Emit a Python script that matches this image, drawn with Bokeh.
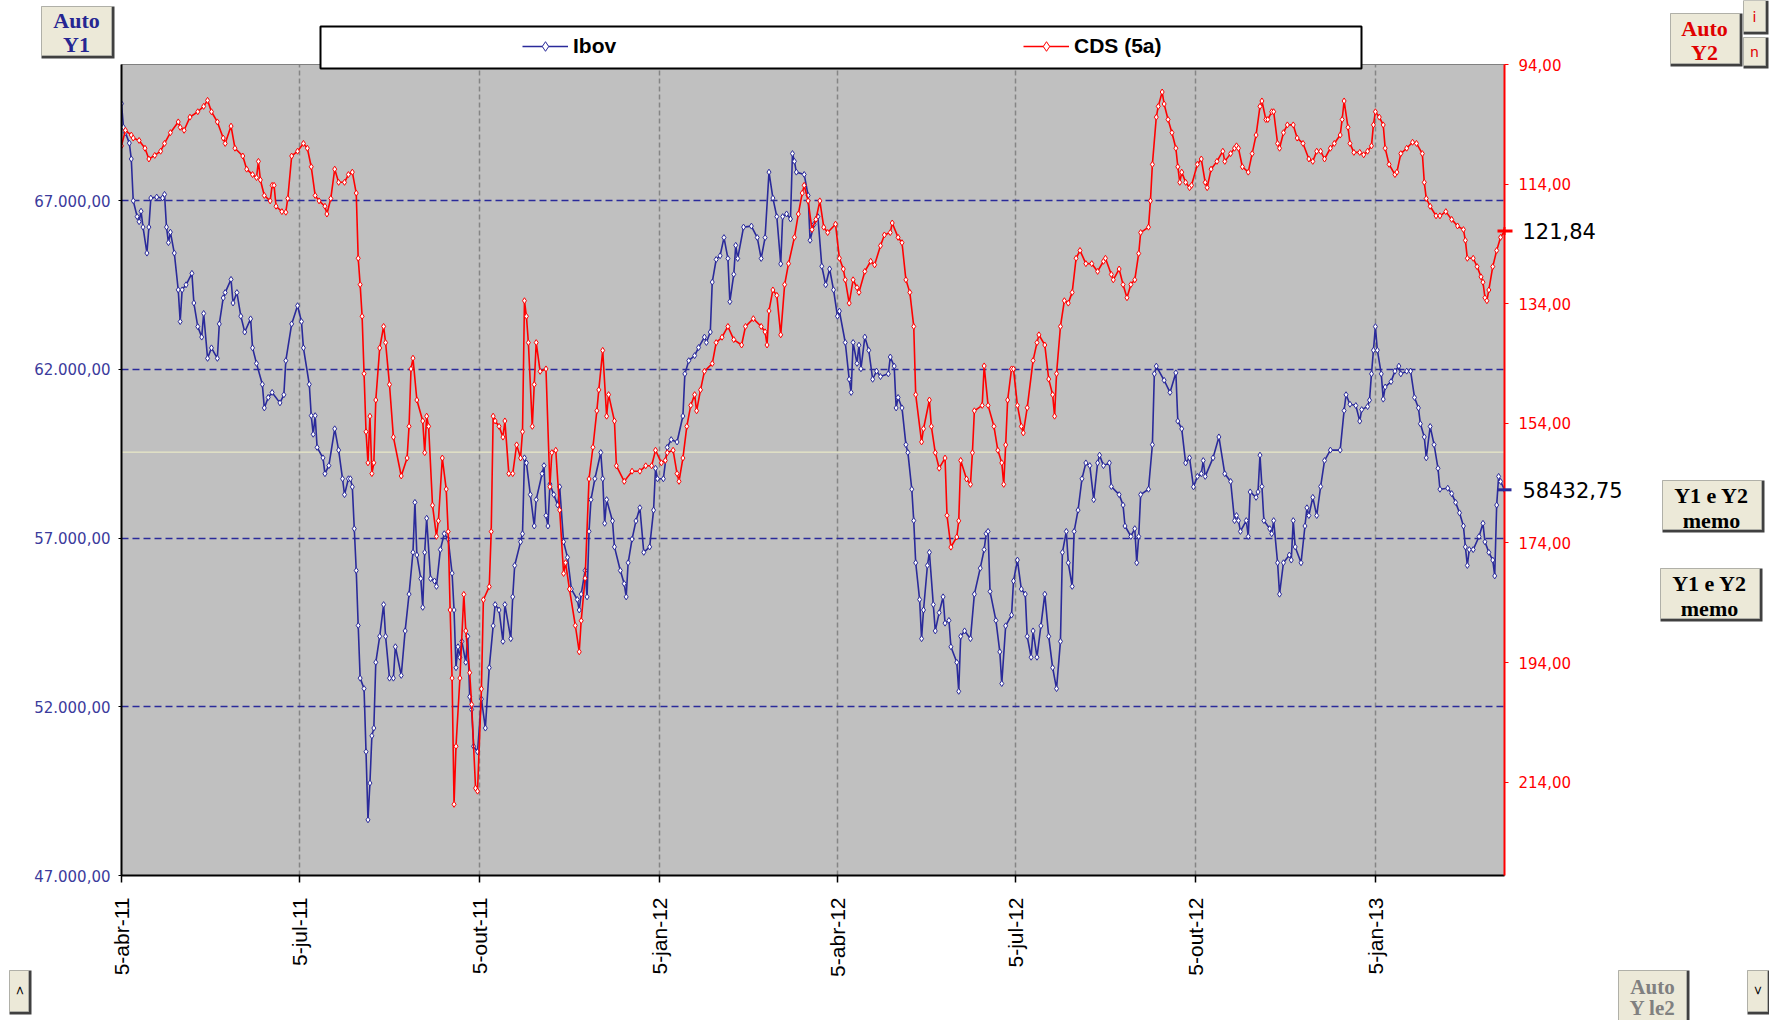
import math
import numpy as np
import pandas as pd
from bokeh.plotting import figure
from bokeh.models import (Range1d, LinearAxis, FixedTicker, Legend, LegendItem,
                          Span, ColumnDataSource)
from bokeh.core.properties import value
from bokeh.embed import file_html
from bokeh.resources import INLINE

# ---------------- data ----------------
START_DATE = "2011-04-05"          # day 0 of the day-offset arrays below
series_names = ["Ibov", "CDS (5a)"]

ibov_days = [0, 1, 2, 4, 5, 6, 8, 9, 10, 11, 13, 14, 15, 18, 21, 22, 23, 24, 25, 27,
             29, 30, 31, 33, 36, 37, 39, 41, 42, 44, 46, 49, 50, 52, 53, 56, 57, 59, 61, 63,
             66, 67, 69, 72, 73, 75, 77, 81, 83, 84, 87, 90, 92, 93, 96, 97, 98, 99, 100, 103,
             104, 106, 109, 111, 113, 114, 116, 117, 118, 119, 120, 121, 122, 124, 125, 126, 127, 128, 129, 130,
             132, 134, 135, 137, 139, 140, 143, 145, 147, 149, 150, 151, 153, 154, 155, 156, 158, 160, 161, 163,
             165, 167, 169, 170, 171, 172, 173, 174, 176, 177, 178, 179, 180, 182, 184, 186, 188, 190, 191, 193,
             195, 196, 199, 200, 201, 204, 205, 206, 207, 209, 211, 212, 215, 216, 217, 218, 219, 221, 223, 224,
             226, 228, 230, 233, 234, 235, 237, 238, 239, 240, 242, 245, 246, 247, 248, 251, 252, 255, 257, 258,
             259, 261, 263, 265, 267, 270, 272, 273, 274, 277, 279, 281, 284, 287, 288, 290, 293, 295, 298, 299,
             301, 302, 304, 306, 308, 310, 311, 313, 314, 315, 318, 322, 325, 327, 329, 331, 333, 335, 337, 338,
             340, 342, 343, 344, 345, 349, 351, 352, 354, 356, 358, 360, 362, 364, 366, 367, 370, 372, 373, 374,
             376, 377, 378, 380, 382, 384, 386, 388, 392, 393, 395, 396, 397, 399, 401, 402, 404, 405, 406, 408,
             409, 410, 412, 413, 415, 416, 418, 420, 421, 423, 424, 427, 428, 429, 431, 434, 436, 439, 441, 442,
             443, 444, 447, 449, 450, 452, 455, 456, 458, 460, 462, 463, 465, 466, 468, 470, 472, 474, 476, 478,
             480, 481, 483, 484, 486, 487, 489, 491, 493, 495, 497, 499, 500, 502, 505, 506, 510, 512, 513, 516,
             518, 519, 520, 521, 525, 527, 528, 529, 533, 536, 539, 540, 542, 544, 546, 548, 550, 552, 553, 554,
             558, 561, 564, 567, 569, 570, 571, 572, 575, 576, 577, 580, 581, 582, 583, 584, 587, 588, 589, 591,
             592, 594, 597, 598, 599, 600, 603, 605, 606, 607, 609, 611, 613, 615, 618, 623, 625, 626, 628, 631,
             633, 634, 637, 638, 639, 640, 641, 642, 644, 645, 646, 649, 651, 653, 654, 657, 659, 661, 663, 664,
             666, 667, 669, 671, 673, 674, 678, 680, 682, 684, 686, 687, 688, 689, 691, 694, 696, 697, 699, 701,
             702, 703, 704, 705, 707]
ibov_vals = [69880, 69180, 69020, 68710, 68240, 67000, 66530, 66380, 66690, 66220, 65450, 66220, 67080, 67110, 67080, 67190, 66220, 65760, 66070, 65450,
             64360, 63420, 64360, 64510, 64850, 63970, 63270, 62960, 63660, 62330, 62640, 62330, 63350, 64120, 64280, 64670, 63970, 64280, 63580, 63110,
             63500, 62640, 62180, 61560, 60860, 61170, 61320, 61010, 61250, 62260, 63350, 63890, 63420, 62640, 61560, 60630, 60080, 60630, 59690, 59380,
             58910, 59150, 60240, 59610, 58760, 58290, 58760, 58760, 58520, 57280, 56040, 54410, 52850, 52540, 50670, 48650, 49740, 51140, 51370, 53320,
             54090, 55030, 54090, 52850, 52850, 53780, 52930, 54250, 55340, 56580, 58060, 56500, 55800, 54950, 56580, 57590, 55800, 55730, 55570, 56660,
             57130, 56970, 55960, 54870, 53160, 53780, 53470, 53940, 53320, 54090, 52300, 51920, 50830, 50670, 52230, 51370, 53160, 54400, 55030, 54870,
             53940, 55030, 54020, 55260, 56190, 56890, 57130, 59380, 59230, 58290, 57360, 58140, 58910, 59150, 57670, 57360, 58600, 58290, 57980, 58520,
             56890, 56430, 55490, 55180, 54870, 55340, 56040, 55260, 57200, 58140, 58760, 59540, 58760, 57440, 58140, 57510, 56740, 56040, 55650, 55260,
             56270, 56970, 57510, 57900, 56580, 56740, 57830, 59070, 58760, 58760, 59690, 59920, 59850, 60620, 61870, 62260, 62410, 62650, 62960, 62800,
             63110, 64590, 65260, 65370, 65910, 65290, 64010, 64820, 65680, 65290, 66220, 66250, 65910, 65290, 65910, 67850, 67080, 66530, 65130, 66530,
             66610, 66460, 68400, 68170, 67850, 67780, 67160, 65830, 66300, 66530, 65060, 64510, 64980, 64360, 63580, 63730, 62800, 61710, 61320, 62800,
             62180, 62720, 62020, 62960, 62570, 61710, 61950, 61790, 61870, 62370, 62100, 60860, 61170, 60860, 59770, 59540, 58450, 57520, 56270, 55180,
             54020, 54870, 56190, 56580, 55030, 54250, 54790, 55260, 54480, 54560, 53780, 53320, 52460, 54090, 54250, 54020, 55340, 56110, 56660, 57130,
             57200, 55420, 54560, 53630, 52690, 54400, 54720, 55730, 56350, 55490, 55340, 54090, 53470, 54250, 53470, 54400, 55340, 54090, 53160, 52540,
             53940, 56580, 57200, 56270, 55570, 57200, 57830, 58760, 59230, 59150, 58140, 59230, 59460, 59150, 59230, 58530, 58290, 57980, 57360, 57050,
             57280, 56270, 57050, 58290, 58450, 59770, 61870, 62100, 61680, 61320, 61900, 60470, 60240, 59230, 59380, 58520, 58830, 58910, 59300, 58830,
             59380, 60000, 58910, 58680, 57520, 57670, 57520, 57200, 57520, 57050, 58370, 58210, 58370, 59460, 58530, 57520, 57280, 57130, 57520, 56270,
             55340, 56270, 56500, 56350, 57520, 56740, 56270, 57360, 57900, 57670, 58210, 57670, 58530, 59300, 59610, 59610, 60780, 61250, 60970, 60930,
             60470, 60810, 60900, 61090, 61870, 62570, 63270, 62570, 61870, 61120, 61480, 61640, 61950, 62100, 61870, 61950, 61950, 61170, 60860, 60390,
             60000, 59380, 60310, 59770, 59070, 58450, 58480, 58320, 58060, 57750, 57360, 56740, 56190, 56660, 56660, 57050, 57440, 56890, 56580, 56350,
             55880, 57980, 58830, 58680, 58432.75]

cds_days = [0, 2, 5, 6, 9, 12, 14, 17, 20, 22, 25, 29, 30, 32, 35, 39, 42, 44, 46, 49,
            52, 53, 56, 58, 62, 64, 67, 69, 70, 71, 73, 76, 77, 78, 79, 82, 84, 85, 87, 90,
            93, 95, 97, 99, 101, 104, 105, 107, 109, 111, 114, 116, 118, 120, 121, 122, 123, 124, 125, 126,
            127, 128, 129, 130, 132, 134, 135, 137, 139, 143, 146, 147, 148, 149, 151, 154, 155, 156, 157, 159,
            161, 162, 164, 166, 167, 168, 169, 170, 171, 173, 175, 176, 178, 179, 181, 182, 184, 185, 188, 189,
            190, 191, 193, 195, 196, 198, 200, 202, 204, 205, 206, 207, 208, 210, 211, 212, 214, 217, 219, 220,
            222, 224, 226, 227, 229, 232, 234, 235, 237, 239, 241, 243, 244, 246, 248, 249, 252, 253, 257, 261,
            265, 268, 271, 273, 276, 278, 279, 282, 284, 285, 287, 289, 291, 293, 294, 296, 298, 302, 304, 307,
            310, 313, 317, 319, 323, 327, 329, 330, 331, 333, 335, 337, 339, 341, 344, 346, 348, 349, 351, 353,
            355, 357, 359, 361, 365, 367, 369, 370, 372, 374, 376, 377, 380, 383, 385, 388, 390, 393, 394, 397,
            399, 401, 403, 405, 406, 409, 410, 413, 414, 416, 418, 421, 422, 424, 427, 428, 429, 432, 434, 435,
            436, 440, 441, 443, 446, 448, 450, 451, 452, 453, 455, 456, 458, 460, 461, 463, 466, 468, 469, 472,
            474, 476, 477, 478, 480, 482, 484, 486, 488, 490, 493, 496, 499, 502, 503, 506, 507, 510, 512, 514,
            516, 518, 520, 521, 525, 526, 527, 529, 530, 532, 533, 535, 537, 539, 540, 541, 542, 544, 546, 547,
            550, 552, 554, 555, 557, 560, 563, 564, 567, 569, 570, 571, 573, 576, 578, 580, 582, 583, 585, 586,
            588, 589, 591, 592, 594, 596, 599, 601, 604, 607, 609, 611, 613, 615, 618, 620, 623, 624, 625, 627,
            628, 630, 633, 635, 637, 639, 640, 641, 643, 645, 646, 648, 651, 652, 654, 657, 660, 662, 665, 666,
            667, 669, 672, 674, 677, 680, 683, 686, 687, 688, 691, 693, 695, 696, 697, 698, 699, 701, 703, 705,
            707]
cds_vals = [107.6, 105.0, 105.8, 106.3, 106.7, 108.0, 109.8, 109.2, 108.5, 107.2, 105.4, 103.6, 104.5, 105.0, 102.8, 101.9, 101.0, 100.0, 101.9, 103.6,
            106.3, 107.2, 104.3, 108.0, 109.3, 111.5, 112.4, 112.9, 110.2, 113.3, 115.9, 116.8, 114.2, 114.2, 117.7, 118.6, 118.7, 116.4, 109.3, 108.5,
            107.2, 108.0, 111.1, 115.9, 116.8, 117.7, 119.0, 116.4, 111.5, 113.7, 113.7, 112.4, 112.0, 115.5, 126.4, 130.8, 136.1, 145.7, 155.4, 160.6,
            152.8, 162.4, 160.6, 150.1, 141.4, 137.8, 140.5, 147.5, 156.3, 162.8, 159.8, 154.5, 144.9, 143.1, 150.1, 153.6, 158.9, 152.8, 154.5, 167.7,
            172.9, 170.3, 159.8, 165.0, 172.1, 185.2, 196.6, 217.7, 208.0, 196.6, 182.6, 188.7, 195.7, 201.0, 215.0, 215.5, 198.4, 183.5, 181.3, 172.1,
            152.8, 153.6, 154.5, 156.3, 153.6, 162.4, 162.4, 157.6, 159.8, 155.4, 133.5, 136.1, 140.5, 154.5, 147.5, 140.5, 145.3, 144.9, 164.6, 158.9,
            158.5, 168.5, 179.1, 177.3, 181.7, 187.8, 192.2, 187.0, 179.9, 163.3, 158.0, 151.9, 148.4, 141.8, 152.8, 149.2, 153.6, 161.1, 163.7, 162.0,
            162.0, 161.1, 161.1, 158.5, 160.6, 160.2, 158.9, 158.5, 162.4, 163.7, 159.8, 154.5, 151.0, 149.2, 151.9, 148.4, 145.3, 144.0, 140.5, 139.6,
            137.8, 140.0, 140.9, 137.8, 136.5, 137.8, 138.7, 140.9, 135.2, 131.7, 132.6, 139.2, 130.8, 127.3, 122.9, 119.0, 115.5, 114.2, 116.8, 121.6,
            119.9, 116.8, 121.2, 122.1, 120.7, 126.4, 128.2, 130.0, 133.9, 130.0, 131.3, 132.1, 128.6, 126.9, 127.5, 124.3, 122.5, 122.1, 120.5, 122.9,
            123.8, 130.0, 132.1, 137.8, 149.2, 157.1, 154.9, 150.1, 154.5, 158.9, 161.5, 159.8, 169.4, 174.7, 173.0, 170.3, 160.2, 163.3, 164.2, 158.9,
            151.9, 151.0, 144.4, 151.0, 154.5, 158.5, 160.6, 164.2, 157.6, 150.1, 144.9, 144.9, 151.0, 154.5, 155.6, 151.4, 143.5, 140.5, 139.2, 140.9,
            146.6, 149.2, 152.8, 145.7, 137.8, 133.5, 133.9, 132.1, 126.4, 125.1, 127.3, 127.3, 128.6, 126.9, 126.4, 129.1, 130.0, 128.2, 130.8, 133.0,
            130.8, 130.0, 125.6, 122.1, 121.2, 116.8, 110.7, 102.8, 101.0, 98.6, 100.6, 103.2, 105.4, 108.0, 111.1, 113.7, 112.0, 113.7, 114.6, 114.2,
            110.7, 109.8, 113.7, 114.6, 111.5, 110.2, 108.5, 110.2, 108.9, 108.0, 107.6, 108.0, 111.1, 112.0, 108.9, 105.8, 101.0, 100.1, 103.2, 103.2,
            101.9, 101.9, 107.2, 108.0, 105.4, 104.1, 104.1, 106.3, 107.2, 109.8, 110.2, 108.5, 108.5, 109.8, 108.0, 107.2, 105.8, 103.2, 100.1, 104.5,
            107.2, 108.7, 108.7, 109.1, 108.5, 107.6, 104.1, 101.9, 102.8, 104.1, 108.0, 110.7, 112.4, 112.0, 108.9, 108.0, 107.0, 107.2, 108.9, 113.7,
            116.4, 117.7, 119.3, 119.3, 118.6, 119.9, 121.0, 121.6, 123.4, 126.4, 126.4, 127.8, 129.5, 130.4, 133.0, 133.5, 131.7, 127.8, 125.1, 122.9,
            121.84]

x_tick_dates = ["2011-04-05", "2011-07-05", "2011-10-05", "2012-01-05",
                "2012-04-05", "2012-07-05", "2012-10-05", "2013-01-05"]
x_tick_labels = ["5-abr-11", "5-jul-11", "5-out-11", "5-jan-12",
                 "5-abr-12", "5-jul-12", "5-out-12", "5-jan-13"]
x_end_days = 707.0
y1_range = (47000, 71040)
y1_ticks = [47000, 52000, 57000, 62000, 67000]
y1_labels = ["47.000,00", "52.000,00", "57.000,00", "62.000,00", "67.000,00"]
y2_range = (229.6, 94)      # inverted secondary axis
y2_ticks = [94, 114, 134, 154, 174, 194, 214]
y2_labels = ["94,00", "114,00", "134,00", "154,00", "174,00", "194,00", "214,00"]
crosshair_y1 = 59550

# button texts
btn_auto_y1 = ["Auto", "Y1"]
btn_auto_y2 = ["Auto", "Y2"]
btn_memo = ["Y1 e Y2", "memo"]
btn_auto_le2 = ["Auto", "Y le2"]

# ---------------- helpers ----------------
t0 = pd.Timestamp(START_DATE)
EPOCH = pd.Timestamp("1970-01-01")


def ms(ts):
    return (ts - EPOCH).total_seconds() * 1000.0


def to_dt(days):
    return t0 + pd.to_timedelta(np.asarray(days, dtype=float), unit="D")


x0 = ms(t0)
x1 = ms(t0 + pd.Timedelta(days=x_end_days))

W, H = 1769, 1020
FL, FT, FW, FH = 121, 64, 1383, 811
FB = FT + FH

BLUE = "#2a2a9a"
RED = "#ff0000"

# ======================= main chart =======================
p = figure(width=W, height=H, x_axis_type="datetime",
           x_range=Range1d(start=x0, end=x1),
           y_range=Range1d(start=y1_range[0], end=y1_range[1]),
           output_backend="svg", toolbar_location=None,
           min_border_left=FL, min_border_top=FT,
           min_border_right=W - FL - FW, min_border_bottom=H - FT - FH,
           background_fill_color="#c0c0c0", border_fill_color="white",
           outline_line_color="#808080", outline_line_width=1)
p.extra_y_ranges = {"cds": Range1d(start=y2_range[0], end=y2_range[1])}

x_ticks = [ms(pd.Timestamp(s)) for s in x_tick_dates]
xt = FixedTicker(ticks=x_ticks)
xa = p.xaxis[0]
xa.ticker = xt
xa.major_label_overrides = {t: lab for t, lab in zip(x_ticks, x_tick_labels)}
xa.major_label_orientation = math.pi / 2
xa.major_label_text_font = "Liberation Sans"
xa.major_label_text_font_size = "21px"
xa.major_label_text_color = "black"
xa.major_label_standoff = 15
xa.axis_line_color = "black"
xa.axis_line_width = 2
xa.major_tick_line_color = "black"
xa.major_tick_line_width = 1.5
xa.major_tick_out = 7
xa.major_tick_in = 0
xa.minor_tick_line_color = None

ya = p.yaxis[0]
ya.ticker = FixedTicker(ticks=y1_ticks)
ya.major_label_overrides = {t: lab for t, lab in zip(y1_ticks, y1_labels)}
ya.major_label_text_font = "DejaVu Sans"
ya.major_label_text_font_size = "15px"
ya.major_label_text_color = "#3b3b9c"
ya.major_label_standoff = 8
ya.axis_line_color = "black"
ya.axis_line_width = 2
ya.major_tick_line_color = "black"
ya.major_tick_out = 3
ya.major_tick_in = 0
ya.minor_tick_line_color = None

ax2 = LinearAxis(y_range_name="cds", ticker=FixedTicker(ticks=y2_ticks),
                 major_label_overrides={t: lab for t, lab in zip(y2_ticks, y2_labels)},
                 major_label_text_font="DejaVu Sans", major_label_text_font_size="15px",
                 major_label_text_color=RED, major_label_standoff=10,
                 axis_line_color=RED, axis_line_width=2,
                 major_tick_line_color=RED, major_tick_out=4, major_tick_in=0,
                 minor_tick_line_color=None)
p.add_layout(ax2, "right")

p.xgrid.ticker = xt
p.xgrid.grid_line_color = "#858585"
p.xgrid.grid_line_dash = "5 3"
p.xgrid.grid_line_width = 1.5
p.ygrid.ticker = FixedTicker(ticks=y1_ticks[1:])
p.ygrid.grid_line_color = BLUE
p.ygrid.grid_line_dash = "7 4"
p.ygrid.grid_line_width = 1.5

p.add_layout(Span(location=crosshair_y1, dimension="width", line_color="#f2f2c8",
                  line_width=1, level="underlay"))

src_i = ColumnDataSource(data=dict(x=to_dt(ibov_days), y=ibov_vals))
src_c = ColumnDataSource(data=dict(x=to_dt(cds_days), y=cds_vals))
p.line("x", "y", source=src_i, line_color=BLUE, line_width=1.6)
p.scatter("x", "y", source=src_i, marker="diamond", size=6,
          line_color=BLUE, fill_color="white", line_width=1)
p.line("x", "y", source=src_c, line_color=RED, line_width=1.6, y_range_name="cds")
p.scatter("x", "y", source=src_c, marker="diamond", size=6,
          line_color=RED, fill_color="white", line_width=1, y_range_name="cds")

# ======================= overlay (legend, buttons, last values) =======================
# separate root, absolutely positioned over the chart, frame = whole canvas (1 unit = 1 px)
d = figure(width=W, height=H, x_range=Range1d(0, W), y_range=Range1d(H, 0),
           x_axis_location=None, y_axis_location=None,
           output_backend="svg", toolbar_location=None, min_border=0,
           background_fill_alpha=0, border_fill_alpha=0, outline_line_color=None,
           styles={"position": "absolute", "left": "0px", "top": "0px"})
d.xgrid.visible = False
d.ygrid.visible = False


def buttons(rects):
    l = [r[0] for r in rects]
    t = [r[1] for r in rects]
    r_ = [r[2] for r in rects]
    b = [r[3] for r in rects]
    d.quad(left=l, right=[v + 1 for v in r_], top=t, bottom=[v + 1 for v in b],
           fill_color="#404040", line_color=None)
    d.quad(left=l, right=[v - 2 for v in r_], top=t, bottom=[v - 2 for v in b],
           fill_color="#ece9d8", line_color="#b0b0a8", line_width=1)


def texts(xs, ys, ss, color, font, size, style="normal", angle=0.0, align="center"):
    d.text(x=xs, y=ys, text=ss, text_color=color, text_font=value(font),
           text_font_size=size, text_font_style=style, text_align=align,
           text_baseline="middle", angle=angle)


# legend frame + legends
d.quad(left=[320], right=[1361], top=[26], bottom=[68], fill_color="white",
       line_color="black", line_width=2)
dl1 = d.line([-60, -50], [-60, -60], line_color=BLUE, line_width=1.6)
ds1 = d.scatter([-55], [-60], marker="diamond", size=6, line_color=BLUE, fill_color="white")
dl2 = d.line([-60, -50], [-60, -60], line_color=RED, line_width=1.6)
ds2 = d.scatter([-55], [-60], marker="diamond", size=6, line_color=RED, fill_color="white")
leg_kw = dict(orientation="horizontal", border_line_color=None, background_fill_alpha=0,
              padding=0, margin=0, glyph_width=46, glyph_height=24, label_height=24,
              label_standoff=5, label_text_font="Liberation Sans", label_text_font_size="21px",
              label_text_font_style="bold", label_text_color="black")
d.add_layout(Legend(items=[LegendItem(label=series_names[0], renderers=[dl1, ds1])],
                    location=(522, H - 58), **leg_kw))
d.add_layout(Legend(items=[LegendItem(label=series_names[1], renderers=[dl2, ds2])],
                    location=(1023, H - 58), **leg_kw))

SERIF = "Liberation Serif"
buttons([(41, 6, 113, 57), (1670, 13, 1741, 65), (1743, 0, 1767, 33), (1743, 37, 1767, 67),
         (1662, 480, 1763, 531), (1660, 568, 1761, 620),
         (9, 970, 30, 1013), (1618, 970, 1688, 1022), (1747, 970, 1769, 1013)])
texts([76, 76], [20, 44], btn_auto_y1, "#262692", SERIF, "22px", "bold")
texts([1704, 1704], [28, 52], btn_auto_y2, "#e00000", SERIF, "22px", "bold")
texts([1754, 1754], [16, 51], ["i", "n"], "#e00000", "DejaVu Sans", "14px")
texts([1711, 1711, 1709, 1709], [495, 520, 583, 608], btn_memo + btn_memo, "black", SERIF, "22px", "bold")
texts([1652, 1652], [986, 1007], btn_auto_le2, "#808080", SERIF, "21px", "bold")
texts([19, 1757], [990, 990], ["<", ">"], "black", "DejaVu Sans", "12px", angle=-math.pi / 2)

# last-value markers and labels (positions from the last data values)
last_cds = cds_vals[-1]
last_ibov = ibov_vals[-1]
yr = FT + (last_cds - y2_range[1]) / (y2_range[0] - y2_range[1]) * FH
yb = FB - (last_ibov - y1_range[0]) / (y1_range[1] - y1_range[0]) * FH
d.quad(left=[1497, 1497], right=[1512, 1511], top=[yr - 1.5, yb - 1.5], bottom=[yr + 1.5, yb + 1.5],
       fill_color=[RED, BLUE], line_color=None)
d.segment(x0=[1504], y0=[yr - 4], x1=[1504], y1=[yr + 4], line_color=RED, line_width=2)
texts([1522, 1522], [yr, yb],
      [f"{last_cds:.2f}".replace(".", ","), f"{last_ibov:.2f}".replace(".", ",")],
      "black", "DejaVu Sans", "21px", align="left")

open("out.html", "w").write(file_html([p, d], INLINE))
